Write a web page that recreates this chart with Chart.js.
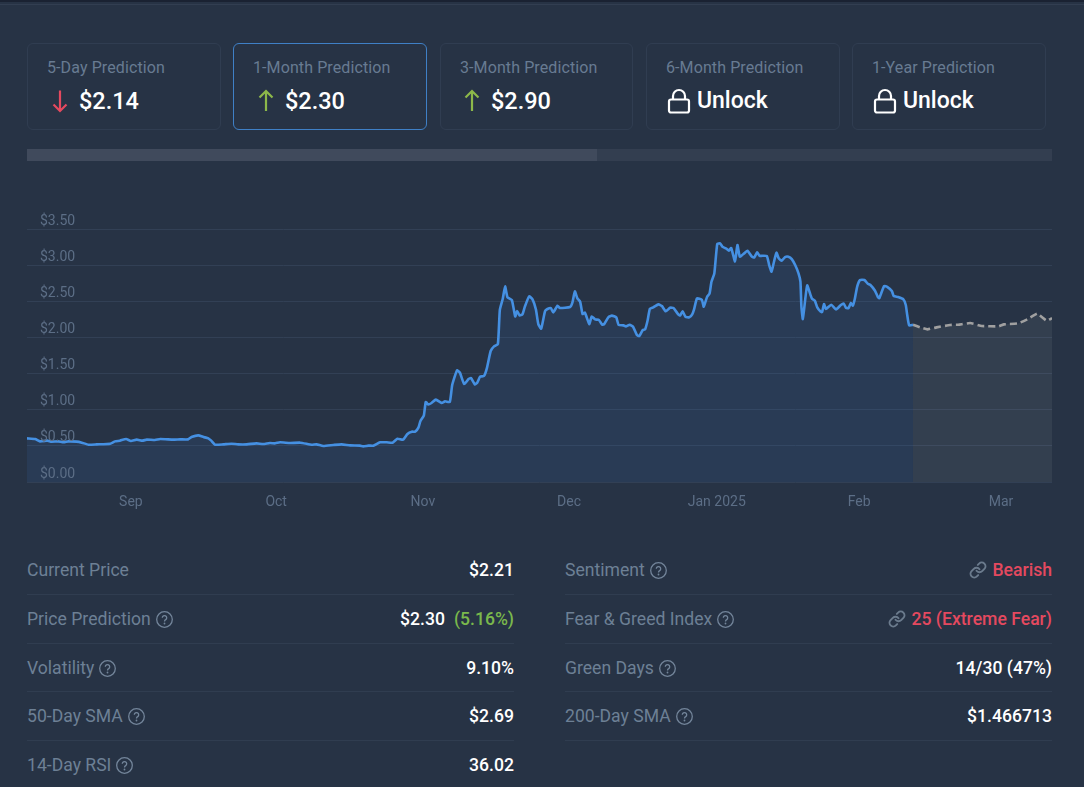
<!DOCTYPE html>
<html>
<head>
<meta charset="utf-8">
<title>Price Prediction</title>
<script src="https://cdn.jsdelivr.net/npm/chart.js@4"></script>
<style>
  html, body { margin: 0; padding: 0; }
  body { position: relative; width: 1084px; height: 787px; overflow: hidden; background: #273345;
         font-family: Roboto, sans-serif; }
  .abs { position: absolute; }
  .topband { left: 0; top: 0; width: 1084px; height: 2px; background: #1a2232; }
  .topline { left: 0; top: 4px; width: 1084px; height: 1px; background: #323e51; }
  .card { box-sizing: border-box; top: 43px; height: 87px; border: 1px solid #303d51; border-radius: 6px; }
  .card.on { border-color: #3f80c6; }
  .card .t { position: absolute; left: 19px; top: 14px; font-size: 16px; line-height: 20px; color: #687b92; white-space: nowrap; letter-spacing: .1px; }
  .card .v { position: absolute; top: 42px; font-size: 23.500px; line-height: 30px; font-weight: 500; color: #fff; white-space: nowrap; }
  .card .u { font-size: 23px; }
  .card svg { position: absolute; }
  .track { left: 27px; top: 149px; width: 1025px; height: 12px; background: #333e50; }
  .fillbar { left: 27px; top: 149px; width: 570px; height: 12px; background: #404a5c; }
  #wrap { left: 27px; top: 204px; width: 1025px; height: 310px; }
  .row { box-sizing: border-box; height: 24px; display: flex; align-items: center; justify-content: space-between; font-size: 17.600px; white-space: nowrap; }
  .lab { color: #6d8095; display: flex; align-items: center; }
  .lab svg { margin-left: 5px; }
  .val { color: #fff; font-weight: 500; display: flex; align-items: center; }
  .val svg { margin-right: 5px; }
  .red { color: #e4495f; }
  .green { color: #7ab84c; }
  .sep { height: 1px; background: #303d50; }
</style>
</head>
<body>
<div class="abs topband"></div>
<div class="abs topline"></div>

<div class="abs card" style="left:27px;width:194px">
  <div class="t">5-Day Prediction</div>
  <svg style="left:24px;top:45px" width="16" height="24" viewBox="0 0 16 24" fill="none" stroke="#e4495f" stroke-width="2.2"><path d="M8 1.5V22M1.5 15.5L8 22l6.500-6.500"/></svg>
  <div class="v" style="left:51px">$2.14</div>
</div>
<div class="abs card on" style="left:233px;width:194px">
  <div class="t">1-Month Prediction</div>
  <svg style="left:24px;top:45px" width="16" height="24" viewBox="0 0 16 24" fill="none" stroke="#8cb84a" stroke-width="2.2"><path d="M8 22V2M1.500 8.500L8 2l6.500 6.500"/></svg>
  <div class="v" style="left:51px">$2.30</div>
</div>
<div class="abs card" style="left:440px;width:193px">
  <div class="t">3-Month Prediction</div>
  <svg style="left:23px;top:45px" width="16" height="24" viewBox="0 0 16 24" fill="none" stroke="#8cb84a" stroke-width="2.2"><path d="M8 22V2M1.500 8.500L8 2l6.500 6.500"/></svg>
  <div class="v" style="left:50px">$2.90</div>
</div>
<div class="abs card" style="left:646px;width:194px">
  <div class="t">6-Month Prediction</div>
  <svg style="left:20px;top:44px" width="24" height="26" viewBox="0 0 24 26" fill="none" stroke="#fff" stroke-width="2.200"><rect x="2" y="11.500" width="20" height="13" rx="2"/><path d="M6 11.500V8a6 6 0 0 1 12 0v3.500"/></svg>
  <div class="v u" style="left:50px">Unlock</div>
</div>
<div class="abs card" style="left:852px;width:194px">
  <div class="t">1-Year Prediction</div>
  <svg style="left:20px;top:44px" width="24" height="26" viewBox="0 0 24 26" fill="none" stroke="#fff" stroke-width="2.200"><rect x="2" y="11.500" width="20" height="13" rx="2"/><path d="M6 11.500V8a6 6 0 0 1 12 0v3.500"/></svg>
  <div class="v u" style="left:50px">Unlock</div>
</div>

<div class="abs track"></div>
<div class="abs fillbar"></div>

<div class="abs" id="wrap"><canvas id="priceChart" width="1025" height="310"></canvas></div>

<svg width="0" height="0" style="position:absolute">
  <defs>
    <symbol id="help" viewBox="0 0 17 17"><circle cx="8.500" cy="8.500" r="7.800" fill="none" stroke="#73859a" stroke-width="1.300"/><path d="M6.300 6.700a2.200 2.200 0 1 1 3.400 1.900c-.8.500-1.200.9-1.200 1.800" fill="none" stroke="#73859a" stroke-width="1.300"/><circle cx="8.500" cy="12.500" r=".9" fill="#73859a"/></symbol>
    <symbol id="chain" viewBox="0 0 24 24"><path d="M10 13a5 5 0 0 0 7.540.54l3-3a5 5 0 0 0-7.070-7.070l-1.720 1.710M14 11a5 5 0 0 0-7.540-.54l-3 3a5 5 0 0 0 7.070 7.070l1.710-1.710" fill="none" stroke="#6b7b8d" stroke-width="2.600" stroke-linecap="round"/></symbol>
  </defs>
</svg>

<div class="abs row" style="left:27px;width:487px;top:558px"><span class="lab">Current Price</span><span class="val">$2.21</span></div>
<div class="abs sep" style="left:27px;width:487px;top:594px"></div>
<div class="abs row" style="left:27px;width:487px;top:607px"><span class="lab">Price Prediction<svg width="17" height="17"><use href="#help"/></svg></span><span class="val">$2.30<span class="green" style="margin-left:9px">(5.16%)</span></span></div>
<div class="abs sep" style="left:27px;width:487px;top:643px"></div>
<div class="abs row" style="left:27px;width:487px;top:656px"><span class="lab">Volatility<svg width="17" height="17"><use href="#help"/></svg></span><span class="val">9.10%</span></div>
<div class="abs sep" style="left:27px;width:487px;top:691px"></div>
<div class="abs row" style="left:27px;width:487px;top:704px"><span class="lab">50-Day SMA<svg width="17" height="17"><use href="#help"/></svg></span><span class="val">$2.69</span></div>
<div class="abs sep" style="left:27px;width:487px;top:740px"></div>
<div class="abs row" style="left:27px;width:487px;top:753px"><span class="lab">14-Day RSI<svg width="17" height="17"><use href="#help"/></svg></span><span class="val">36.02</span></div>

<div class="abs row" style="left:565px;width:487px;top:558px"><span class="lab">Sentiment<svg width="17" height="17"><use href="#help"/></svg></span><span class="val red"><svg width="18" height="18"><use href="#chain"/></svg>Bearish</span></div>
<div class="abs sep" style="left:565px;width:487px;top:594px"></div>
<div class="abs row" style="left:565px;width:487px;top:607px"><span class="lab">Fear &amp; Greed Index<svg width="17" height="17"><use href="#help"/></svg></span><span class="val red"><svg width="18" height="18"><use href="#chain"/></svg>25 (Extreme Fear)</span></div>
<div class="abs sep" style="left:565px;width:487px;top:643px"></div>
<div class="abs row" style="left:565px;width:487px;top:656px"><span class="lab">Green Days<svg width="17" height="17"><use href="#help"/></svg></span><span class="val">14/30 (47%)</span></div>
<div class="abs sep" style="left:565px;width:487px;top:691px"></div>
<div class="abs row" style="left:565px;width:487px;top:704px"><span class="lab">200-Day SMA<svg width="17" height="17"><use href="#help"/></svg></span><span class="val">$1.466713</span></div>
<div class="abs sep" style="left:565px;width:487px;top:740px"></div>

<script>
// Days since the start of the plotted window, and the closing price on each.
const historyDays = [
  0,1.7,2.7,4.2,5.1,6.5,7.6,8.6,10.3,11.4,12.8,14.5,17.3,18.3,19.3,20.6,21.6,22.8,24.0,24.9,
  26.6,27.7,30.4,31.8,33.5,34.2,35.6,36.7,37.7,38.3,39.1,40.8,42.5,43.9,45.7,47.7,49.1,50.5,51.6,52.6,
  54.7,56.8,59.2,60.2,61.6,63.7,65.4,67.2,69.2,69.9,71.0,72.0,73.4,74.8,76.0,77.0,78.2,79.1,80.0,80.7,
  81.4,81.8,82.5,82.9,83.4,84.1,85.0,86.2,86.9,87.9,88.4,89.4,90.0,90.9,91.8,92.3,93.1,93.6,94.2,95.0,
  95.6,96.4,97.1,97.9,98.3,98.9,99.4,99.9,100.8,101.5,101.9,102.4,103.0,103.5,104.4,105.1,105.8,106.3,106.9,107.7,
  108.2,108.9,109.4,110.3,110.8,112.9,113.4,113.9,114.4,115.0,115.5,116.0,116.9,117.4,118.1,118.9,119.6,120.0,120.9,121.6,
  122.5,123.0,124.0,124.5,125.3,126.0,126.8,127.3,128.0,128.5,129.0,129.5,130.2,131.3,132.0,132.8,133.7,134.4,135.4,135.8,
  136.3,136.9,137.7,138.3,138.7,139.3,140.3,140.7,141.4,141.9,142.3,142.9,143.5,144.1,144.6,145.5,145.9,146.4,147.2,147.7,
  148.2,149.1,149.8,150.7,151.2,151.8,152.3,153.8,154.3,154.8,155.3,155.8,156.3,156.9,157.6,158.3,159.0,159.7,160.4,160.8,
  161.0,161.3,161.7,162.2,162.9,163.2,163.8,164.3,165.0,165.3,165.7,166.1,167.2,168.2,169.2,169.8,170.3,170.8,171.3,171.7,
  172.1,172.6,173.2,174.1,174.8,175.3,176.3,176.9,177.2,178.2,178.9,179.8,180.2,181.1,182.2,182.7,183.0,183.4,184.2
];
const historyPrices = [
  0.604,0.595,0.562,0.572,0.558,0.562,0.549,0.562,0.558,0.544,0.516,0.521,0.530,0.562,0.572,0.595,0.567,0.586,0.572,0.586,
  0.581,0.595,0.586,0.590,0.590,0.622,0.645,0.622,0.604,0.572,0.516,0.521,0.530,0.521,0.521,0.535,0.525,0.539,0.535,0.549,
  0.539,0.544,0.516,0.521,0.498,0.512,0.521,0.507,0.503,0.493,0.503,0.503,0.549,0.549,0.544,0.599,0.586,0.664,0.696,0.696,
  0.756,0.844,0.917,1.106,1.074,1.093,1.139,1.093,1.116,1.106,1.342,1.545,1.512,1.355,1.425,1.438,1.351,1.374,1.457,1.466,
  1.572,1.812,1.876,1.909,2.379,2.531,2.706,2.554,2.517,2.291,2.365,2.305,2.319,2.425,2.568,2.527,2.388,2.185,2.121,2.365,
  2.393,2.407,2.347,2.439,2.407,2.421,2.485,2.637,2.545,2.494,2.324,2.342,2.185,2.291,2.250,2.241,2.176,2.185,2.282,2.301,
  2.278,2.172,2.167,2.153,2.176,2.148,2.033,2.019,2.102,2.112,2.227,2.397,2.416,2.457,2.434,2.361,2.411,2.407,2.319,2.305,
  2.361,2.287,2.278,2.319,2.393,2.540,2.522,2.425,2.563,2.605,2.771,2.886,3.292,3.301,3.255,3.223,3.200,3.237,3.052,3.278,
  3.117,3.163,3.200,3.117,3.107,3.177,3.130,3.126,3.001,2.909,3.047,3.172,3.094,3.061,3.112,3.117,3.084,3.001,2.886,2.771,
  2.425,2.254,2.471,2.720,2.586,2.536,2.508,2.416,2.356,2.351,2.462,2.393,2.453,2.388,2.448,2.467,2.407,2.407,2.476,2.439,
  2.531,2.702,2.794,2.794,2.743,2.729,2.646,2.559,2.545,2.711,2.697,2.642,2.573,2.559,2.527,2.448,2.310,2.167,2.176
];
const forecastDays = [184.2,185.7,187.2,189.1,191.9,193.6,196.1,198.5,202.0,203.1,206.1,208.2,210.0,212.0,213.1];
const forecastPrices = [2.176,2.139,2.112,2.139,2.172,2.176,2.199,2.158,2.153,2.181,2.195,2.259,2.328,2.231,2.268];

// Month captions along the bottom axis and the day each one sits on.
const monthTickDays = [21.6,51.8,82.3,112.7,143.4,173.0,202.5];
const monthTickLabels = ['Sep','Oct','Nov','Dec','Jan 2025','Feb','Mar'];

const toPoints = (xs, ys) => xs.map((x, i) => ({ x, y: ys[i] }));

new Chart(document.getElementById('priceChart'), {
  type: 'line',
  data: {
    datasets: [
      {
        label: 'Price',
        data: toPoints(historyDays, historyPrices),
        borderColor: '#4590e2',
        borderWidth: 2.6,
        backgroundColor: 'rgba(60,130,215,0.11)',
        fill: 'origin',
        pointRadius: 0,
        tension: 0.15
      },
      {
        label: 'Prediction',
        data: toPoints(forecastDays, forecastPrices),
        borderColor: '#a0a0a0',
        borderWidth: 2.6,
        borderDash: [7, 4],
        backgroundColor: 'rgba(255,255,255,0.06)',
        fill: 'origin',
        pointRadius: 0,
        tension: 0.1
      }
    ]
  },
  options: {
    responsive: false,
    animation: false,
    layout: { padding: { top: 25, left: 0, right: 0, bottom: 0 } },
    plugins: { legend: { display: false }, tooltip: { enabled: false } },
    scales: {
      x: {
        type: 'linear',
        min: 0,
        max: 213.1,
        grid: { display: false },
        border: { display: false },
        afterBuildTicks(scale) { scale.ticks = monthTickDays.map(value => ({ value })); },
        afterFit(scale) { scale.height = 32; scale.paddingLeft = 0; scale.paddingRight = 0; },
        ticks: {
          autoSkip: false,
          maxRotation: 0,
          padding: 4,
          color: '#5c6e86',
          font: { family: 'Roboto', size: 14 },
          callback: value => monthTickLabels[monthTickDays.indexOf(value)]
        }
      },
      y: {
        min: 0,
        max: 3.5,
        afterFit(scale) { scale.width = 0; },
        grid: { color: '#324055', drawTicks: false },
        border: { display: false },
        ticks: {
          stepSize: 0.5,
          mirror: true,
          padding: 13,
          labelOffset: -8,
          z: 1,
          color: '#5c6e86',
          font: { family: 'Roboto', size: 14 },
          callback: value => '$' + value.toFixed(2)
        }
      }
    }
  }
});
</script>
</body>
</html>
